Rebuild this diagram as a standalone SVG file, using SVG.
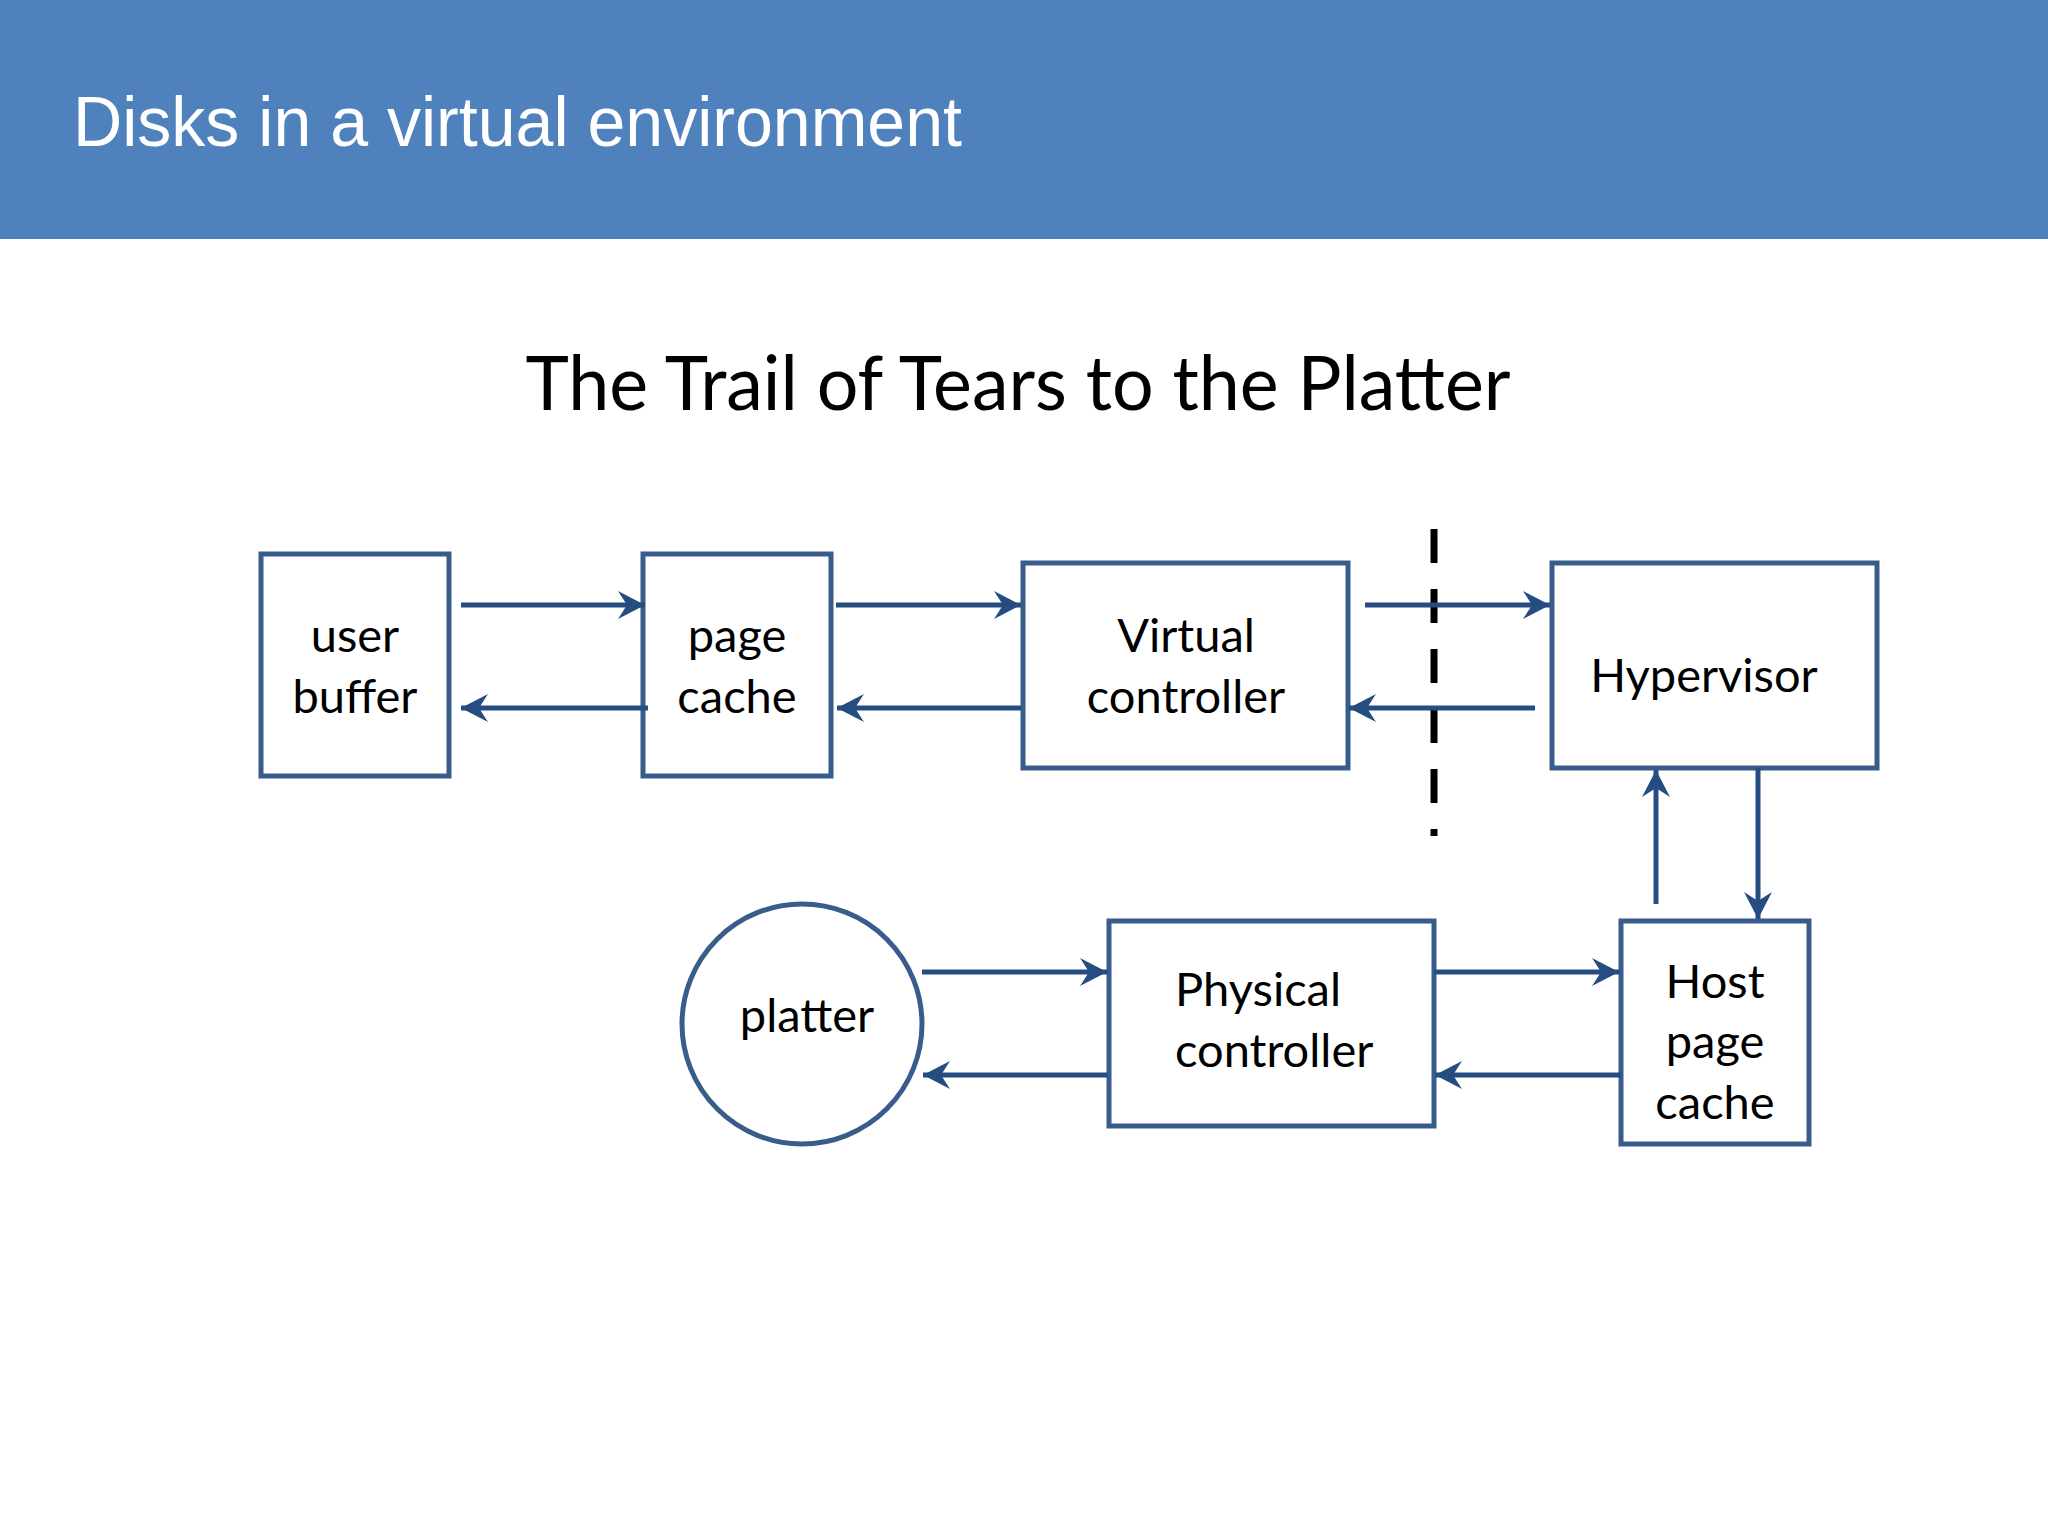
<svg xmlns="http://www.w3.org/2000/svg" width="2048" height="1536" viewBox="0 0 2048 1536">
<style>
.box{fill:#ffffff;stroke:#385D8A;stroke-width:5}
.lbl{font-family:Lato,"Liberation Sans",sans-serif;font-size:47px;fill:#000000;text-anchor:middle}
.lbl-start{font-family:Lato,"Liberation Sans",sans-serif;font-size:47px;fill:#000000;text-anchor:start}
.conn{stroke:#254D82;stroke-width:5;fill:none;marker-end:url(#ah)}
</style>
<defs>
<marker id="ah" markerUnits="userSpaceOnUse" markerWidth="40" markerHeight="40" viewBox="-30 -20 40 40" refX="0" refY="0" orient="auto">
<path d="M0,0 L-27,-14 L-18,0 L-27,14 Z" fill="#254D82"/>
</marker>
</defs>
<rect x="0" y="0" width="2048" height="239" fill="#4F81BD"/>
<text x="73" y="146" font-family="Liberation Sans,Arial,sans-serif" font-size="71" fill="#ffffff" textLength="889" lengthAdjust="spacingAndGlyphs">Disks in a virtual environment</text>
<text x="1018" y="410" font-family="Lato,Liberation Sans,sans-serif" font-size="76" fill="#000000" text-anchor="middle" textLength="985" lengthAdjust="spacingAndGlyphs">The Trail of Tears to the Platter</text>

<g id="user-buffer">
<rect class="box" x="261" y="554" width="188" height="222"/>
<text class="lbl" x="355" y="652">user</text>
<text class="lbl" x="355" y="713">buffer</text>
</g>
<g id="page-cache">
<rect class="box" x="643" y="554" width="188" height="222"/>
<text class="lbl" x="737" y="652">page</text>
<text class="lbl" x="737" y="713">cache</text>
</g>
<g id="virtual-controller">
<rect class="box" x="1023" y="563" width="325" height="205"/>
<text class="lbl" x="1186" y="652">Virtual</text>
<text class="lbl" x="1186" y="713">controller</text>
</g>
<g id="hypervisor">
<rect class="box" x="1552" y="563" width="325" height="205"/>
<text class="lbl" x="1704" y="692">Hypervisor</text>
</g>
<g id="host-page-cache">
<rect class="box" x="1621" y="921" width="188" height="223"/>
<text class="lbl" x="1715" y="998">Host</text>
<text class="lbl" x="1715" y="1058">page</text>
<text class="lbl" x="1715" y="1119">cache</text>
</g>
<g id="physical-controller">
<rect class="box" x="1109" y="921" width="325" height="205"/>
<text class="lbl-start" x="1175" y="1006">Physical</text>
<text class="lbl-start" x="1175" y="1067">controller</text>
</g>
<g id="platter">
<circle class="box" cx="802" cy="1024" r="120"/>
<text class="lbl" x="807" y="1032">platter</text>
</g>

<g id="boundary">
<line x1="1434" y1="529" x2="1434" y2="836" stroke="#000000" stroke-width="7" stroke-dasharray="34 26"/>
</g>

<g id="connectors">
<line class="conn" x1="461" y1="605" x2="645" y2="605"/>
<line class="conn" x1="836" y1="605" x2="1021" y2="605"/>
<line class="conn" x1="1365" y1="605" x2="1550" y2="605"/>
<line class="conn" x1="648" y1="708" x2="461" y2="708"/>
<line class="conn" x1="1021" y1="708" x2="837" y2="708"/>
<line class="conn" x1="1535" y1="708" x2="1349" y2="708"/>
<line class="conn" x1="1656" y1="904" x2="1656" y2="770"/>
<line class="conn" x1="1758" y1="768" x2="1758" y2="919"/>
<line class="conn" x1="922" y1="972" x2="1107" y2="972"/>
<line class="conn" x1="1434" y1="972" x2="1619" y2="972"/>
<line class="conn" x1="1107" y1="1075" x2="923" y2="1075"/>
<line class="conn" x1="1621" y1="1075" x2="1435" y2="1075"/>
</g>
</svg>
